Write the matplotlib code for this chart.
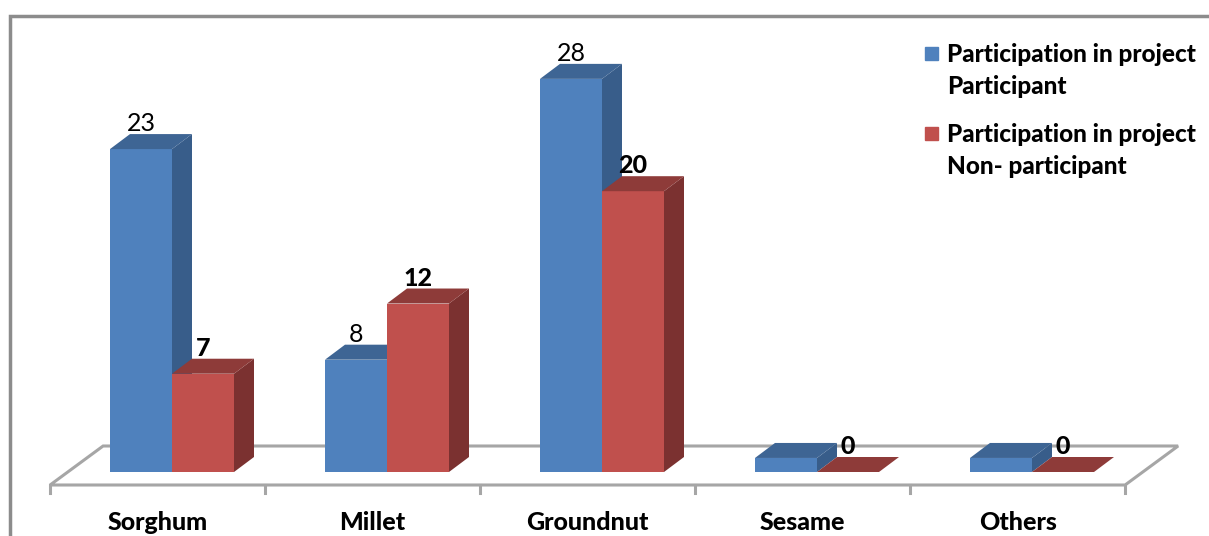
import matplotlib.pyplot as plt
from matplotlib.patches import Polygon, Rectangle

categories = ['Sorghum', 'Millet', 'Groundnut', 'Sesame', 'Others']
participant = [23, 8, 28, 1, 1]
non_participant = [7, 12, 20, 0, 0]
participant_labels = ['23', '8', '28', '', '']
non_participant_labels = ['7', '12', '20', '0', '0']
series_names = ['Participation in project\nParticipant',
                'Participation in project\nNon- participant']

plt.rcParams['font.family'] = ['Lato', 'DejaVu Sans']

W, H = 1209, 536
fig = plt.figure(figsize=(W / 100, H / 100), dpi=100)
ax = fig.add_axes([0, 0, 1, 1])

# scale: one category step and one unit of value, in pixels
step_px = 215.0
unit_px = 14.04
x0_px = 172.0   # centre of the first group
y0_px = 472.0   # base of the front faces, from the top
ax.set_xlim(-x0_px / step_px, (W - x0_px) / step_px)
ax.set_ylim((y0_px - H) / unit_px, y0_px / unit_px)
ax.axis('off')

bw = 62 / step_px          # width of one bar
ddx = 20 / step_px         # depth offset of bars
ddy = 15 / unit_px

# floor of the 3d plot
floor_y = -13 / unit_px
floor_x0 = -0.567
floor_x1 = floor_x0 + len(categories)
fdx = 53 / step_px
fdy = 39 / unit_px
grey = '#a6a6a6'
floor = Polygon([(floor_x0, floor_y), (floor_x1, floor_y),
                 (floor_x1 + fdx, floor_y + fdy), (floor_x0 + fdx, floor_y + fdy)],
                closed=True, facecolor='white', edgecolor=grey, linewidth=2.2, zorder=1)
ax.add_patch(floor)
for k in range(len(categories) + 1):
    ax.plot([floor_x0 + k, floor_x0 + k], [floor_y, floor_y - 8 / unit_px],
            color=grey, linewidth=2.2, zorder=1)

blue = ('#4f81bd', '#385d8a', '#3e6594')
red = ('#c0504d', '#7b3130', '#8e3b39')


def draw_bar(x_left, value, cols, z):
    front, side, top = cols
    if value > 0:
        ax.bar(x_left, value, width=bw, align='edge', color=front,
               linewidth=0, zorder=z)
    xr = x_left + bw
    ax.add_patch(Polygon([(xr, 0), (xr + ddx, ddy), (xr + ddx, value + ddy), (xr, value)],
                         closed=True, facecolor=side, edgecolor='none', zorder=z + 0.1))
    ax.add_patch(Polygon([(x_left, value), (x_left + ddx, value + ddy),
                          (xr + ddx, value + ddy), (xr, value)],
                         closed=True, facecolor=top, edgecolor='none', zorder=z + 0.2))


for i in range(len(categories)):
    z = 2 + i
    draw_bar(i - bw, participant[i], blue, z)
    draw_bar(i, non_participant[i], red, z + 0.5)
    if participant_labels[i]:
        ax.text(i - bw / 2, participant[i] + ddy + 3 / unit_px, participant_labels[i],
                ha='center', va='baseline', fontsize=18, zorder=20)
    ax.text(i + bw / 2, non_participant[i] + ddy + 3 / unit_px, non_participant_labels[i],
            ha='center', va='baseline', fontsize=18, fontweight='black', zorder=20)
    ax.text(floor_x0 + i + 0.5, -58 / unit_px, categories[i], ha='center', va='baseline',
            fontsize=18, fontweight='black')

# outer border of the chart area
fig.patches.append(Rectangle((10 / W, -0.2), 1.2, 1.2 - 16 / H,
                             transform=fig.transFigure, fill=False,
                             edgecolor='#8c8c8c', linewidth=2.5))

# legend
for j, (name, col) in enumerate(zip(series_names, [blue[0], red[0]])):
    top_px = 47 + 80 * j
    fig.patches.append(Rectangle((925 / W, 1 - (top_px + 13) / H), 13 / W, 13 / H,
                                 transform=fig.transFigure, color=col))
    for n, line in enumerate(name.split('\n')):
        fig.text(947 / W, 1 - (top_px + 7 + 32 * n) / H, line, ha='left', va='center',
                 fontsize=17.5, fontweight='black')

fig.savefig('out.png', dpi=100)
